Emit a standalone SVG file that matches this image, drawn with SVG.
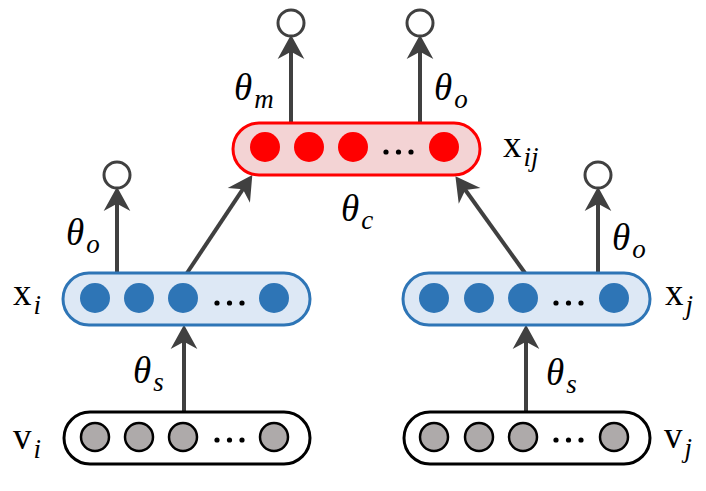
<svg xmlns="http://www.w3.org/2000/svg" width="706" height="491" viewBox="0 0 706 491">
<defs>
<style>
.arrow{stroke:#404040;stroke-width:4;fill:none;marker-end:url(#ah)}
.out{fill:#fff;stroke:#404040;stroke-width:3}
.lbl{font-family:"Liberation Serif","Times New Roman",serif;font-size:37px;fill:#000}
.it{font-style:italic;font-size:37px}
.sub{font-size:27px;font-style:italic}
.red-box{fill:#f3d3d4;stroke:#ff0000;stroke-width:3}
.red-c{fill:#ff0000}
.blue-box{fill:#dde8f5;stroke:#2e75b6;stroke-width:3}
.blue-c{fill:#2e75b6}
.gray-box{fill:#fff;stroke:#000;stroke-width:3}
.gray-c{fill:#aeaaaa;stroke:#000;stroke-width:2.5}
.dot{fill:#000}
</style>
<marker id="ah" markerUnits="userSpaceOnUse" markerWidth="34" markerHeight="34" viewBox="-12 -14 28 28" refX="0" refY="0" orient="auto">
<path d="M11,0 L-9,-11 L-3,0 L-9,11 Z" fill="#404040"/>
</marker>
</defs>

<g id="connectors">
<line class="arrow" x1="291" y1="123" x2="291" y2="48"/>
<line class="arrow" x1="420" y1="123" x2="420" y2="48"/>
<line class="arrow" x1="117" y1="273" x2="117" y2="200"/>
<line class="arrow" x1="598" y1="273" x2="598" y2="200"/>
<line class="arrow" x1="187" y1="273" x2="244.9" y2="186.2"/>
<line class="arrow" x1="525" y1="273" x2="463.2" y2="187"/>
<line class="arrow" x1="184" y1="412" x2="184" y2="338"/>
<line class="arrow" x1="526" y1="412" x2="526" y2="338"/>
</g>

<g id="out-m"><circle class="out" cx="291" cy="23" r="13"/></g>
<g id="out-o-ij"><circle class="out" cx="420" cy="23" r="13"/></g>
<g id="out-o-i"><circle class="out" cx="117" cy="175" r="13"/></g>
<g id="out-o-j"><circle class="out" cx="598" cy="175" r="13"/></g>

<g id="xij">
<rect class="red-box" x="233" y="123" width="247" height="52" rx="26"/>
<circle class="red-c" cx="265" cy="147" r="15"/>
<circle class="red-c" cx="309" cy="147" r="15"/>
<circle class="red-c" cx="353" cy="147" r="15"/>
<circle class="red-c" cx="444" cy="147" r="15"/>
<circle class="dot" cx="386" cy="152" r="2.6"/>
<circle class="dot" cx="398.5" cy="152" r="2.6"/>
<circle class="dot" cx="411" cy="152" r="2.6"/>
</g>

<g id="xi">
<rect class="blue-box" x="63" y="273" width="247" height="52" rx="26"/>
<circle class="blue-c" cx="95" cy="298" r="15"/>
<circle class="blue-c" cx="139" cy="298" r="15"/>
<circle class="blue-c" cx="183" cy="298" r="15"/>
<circle class="blue-c" cx="274" cy="298" r="15"/>
<circle class="dot" cx="217" cy="303" r="2.6"/>
<circle class="dot" cx="229.5" cy="303" r="2.6"/>
<circle class="dot" cx="242" cy="303" r="2.6"/>
</g>

<g id="xj">
<rect class="blue-box" x="403" y="273" width="247" height="52" rx="26"/>
<circle class="blue-c" cx="434" cy="298" r="15"/>
<circle class="blue-c" cx="479" cy="298" r="15"/>
<circle class="blue-c" cx="523" cy="298" r="15"/>
<circle class="blue-c" cx="614" cy="298" r="15"/>
<circle class="dot" cx="556" cy="303" r="2.6"/>
<circle class="dot" cx="568.5" cy="303" r="2.6"/>
<circle class="dot" cx="581" cy="303" r="2.6"/>
</g>

<g id="vi">
<rect class="gray-box" x="64" y="412" width="246" height="52" rx="26"/>
<circle class="gray-c" cx="95" cy="437" r="14"/>
<circle class="gray-c" cx="139" cy="437" r="14"/>
<circle class="gray-c" cx="183" cy="437" r="14"/>
<circle class="gray-c" cx="274" cy="437" r="14"/>
<circle class="dot" cx="217" cy="440" r="2.6"/>
<circle class="dot" cx="229.5" cy="440" r="2.6"/>
<circle class="dot" cx="242" cy="440" r="2.6"/>
</g>

<g id="vj">
<rect class="gray-box" x="404" y="412" width="246" height="52" rx="26"/>
<circle class="gray-c" cx="434" cy="437" r="14"/>
<circle class="gray-c" cx="479" cy="437" r="14"/>
<circle class="gray-c" cx="523" cy="437" r="14"/>
<circle class="gray-c" cx="614" cy="437" r="14"/>
<circle class="dot" cx="556" cy="440" r="2.6"/>
<circle class="dot" cx="568.5" cy="440" r="2.6"/>
<circle class="dot" cx="581" cy="440" r="2.6"/>
</g>

<g id="labels">
<text class="lbl" x="13" y="305">x<tspan class="sub" dx="2" dy="9">i</tspan></text>
<text class="lbl" x="13" y="449">v<tspan class="sub" dx="2" dy="9">i</tspan></text>
<text class="lbl" x="503" y="157">x<tspan class="sub" dx="2" dy="9">ij</tspan></text>
<text class="lbl" x="665" y="305">x<tspan class="sub" dx="2" dy="9">j</tspan></text>
<text class="lbl" x="664" y="448">v<tspan class="sub" dx="2" dy="9">j</tspan></text>
<text class="lbl it" x="234" y="100">θ<tspan class="sub" dx="2" dy="8">m</tspan></text>
<text class="lbl it" x="434" y="100">θ<tspan class="sub" dx="2" dy="8">o</tspan></text>
<text class="lbl it" x="341" y="221">θ<tspan class="sub" dx="2" dy="8">c</tspan></text>
<text class="lbl it" x="66" y="245">θ<tspan class="sub" dx="2" dy="8">o</tspan></text>
<text class="lbl it" x="612" y="250">θ<tspan class="sub" dx="2" dy="8">o</tspan></text>
<text class="lbl it" x="133" y="383">θ<tspan class="sub" dx="2" dy="8">s</tspan></text>
<text class="lbl it" x="546" y="385">θ<tspan class="sub" dx="2" dy="8">s</tspan></text>
</g>
</svg>
